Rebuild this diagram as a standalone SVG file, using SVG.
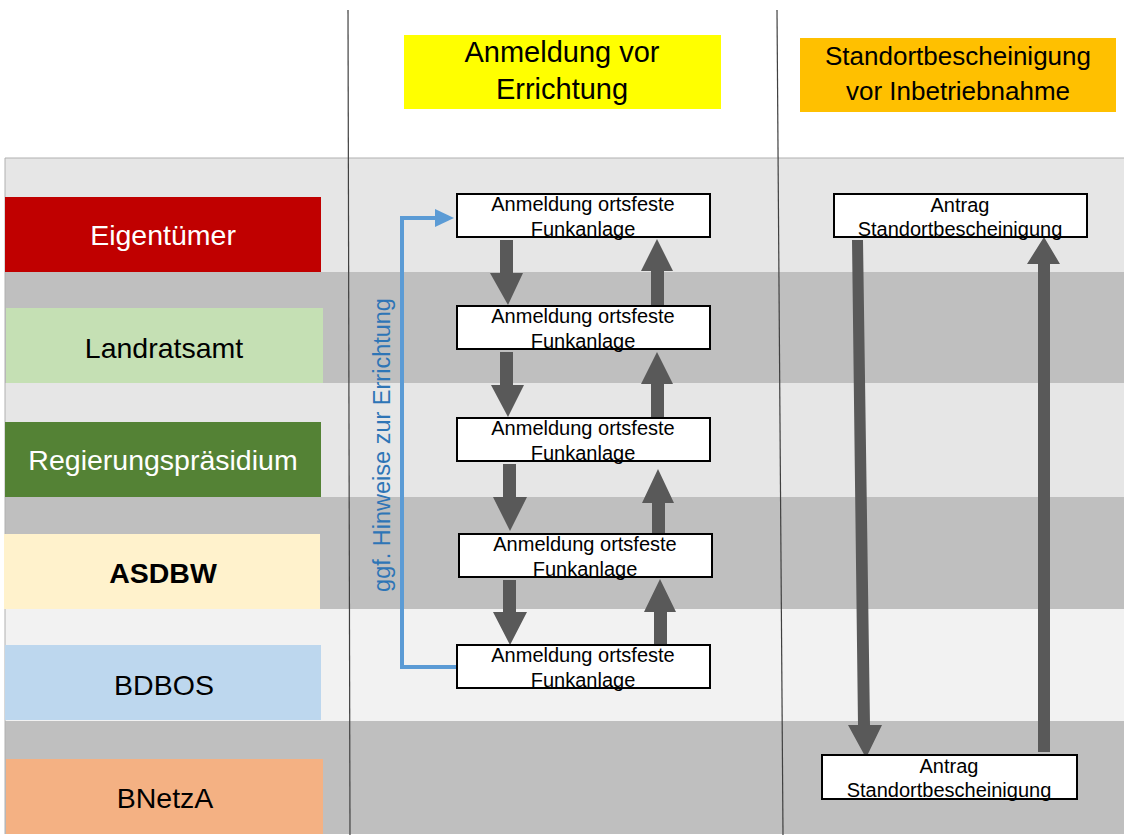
<svg xmlns="http://www.w3.org/2000/svg" width="1124" height="835" viewBox="0 0 1124 835">
<style>
text{font-family:"Liberation Sans",Arial,sans-serif}
.lane{font-size:28.5px;text-anchor:middle}
.hdr{text-anchor:middle;fill:#000}
.box{fill:#fff;stroke:#000;stroke-width:2}
.bt{font-size:20px;text-anchor:middle;fill:#000}
.arr{fill:#595959}
</style>
<rect x="0" y="0" width="1124" height="835" fill="#fff"/>
<g id="bands">
<rect x="5" y="158" width="1119" height="114" fill="#e6e6e6"/>
<rect x="5" y="272" width="1119" height="111" fill="#bfbfbf"/>
<rect x="5" y="383" width="1119" height="114" fill="#e6e6e6"/>
<rect x="5" y="497" width="1119" height="112" fill="#bfbfbf"/>
<rect x="5" y="609" width="1119" height="112" fill="#f2f2f2"/>
<rect x="5" y="721" width="1119" height="113" fill="#bfbfbf"/>
<path d="M5 834V158H1124" fill="none" stroke="#b0b0b0" stroke-width="1"/>
</g>
<g id="dividers" stroke="#404040" stroke-width="1.2">
<line x1="348" y1="10" x2="350" y2="835"/>
<line x1="777" y1="10" x2="783" y2="835"/>
</g>
<g id="header-anmeldung">
<rect x="404" y="35" width="317" height="74" fill="#ffff00"/>
<text class="hdr" x="562" y="62" font-size="29">Anmeldung vor</text>
<text class="hdr" x="562" y="99" font-size="29">Errichtung</text>
</g>
<g id="header-standort">
<rect x="800" y="38" width="316" height="74" fill="#ffc000"/>
<text class="hdr" x="958" y="65" font-size="26">Standortbescheinigung</text>
<text class="hdr" x="958" y="100" font-size="26">vor Inbetriebnahme</text>
</g>
<g id="lane-eigentuemer">
<rect x="5" y="197" width="316" height="75" fill="#c00000"/>
<text class="lane" x="163" y="245" fill="#fff">Eigentümer</text>
</g>
<g id="lane-landratsamt">
<rect x="6" y="308" width="317" height="75" fill="#c5e0b4"/>
<text class="lane" x="164" y="358" fill="#000">Landratsamt</text>
</g>
<g id="lane-rp">
<rect x="5" y="422" width="316" height="75" fill="#548235"/>
<text class="lane" x="163" y="470" fill="#fff">Regierungspräsidium</text>
</g>
<g id="lane-asdbw">
<rect x="4" y="534" width="316" height="75" fill="#fff2cc"/>
<text class="lane" x="163" y="583" fill="#000" font-weight="bold">ASDBW</text>
</g>
<g id="lane-bdbos">
<rect x="5" y="645" width="316" height="75" fill="#bdd7ee"/>
<text class="lane" x="164" y="695" fill="#000">BDBOS</text>
</g>
<g id="lane-bnetza">
<rect x="6" y="759" width="317" height="75" fill="#f4b183"/>
<text class="lane" x="165" y="808" fill="#000">BNetzA</text>
</g>
<g id="connectors">
<polygon class="arr" points="500,240 513,240 513,273 523,273 508,305 490,273 500,273"/>
<polygon class="arr" points="500,352 513,352 513,385 524,385 508,417 491,385 500,385"/>
<polygon class="arr" points="503,464 516,464 516,497 527,497 510,531 493,497 503,497"/>
<polygon class="arr" points="503,580 516,580 516,612 527,612 510,645 493,612 503,612"/>
<polygon class="arr" points="651,305 664,305 664,271 673,271 657,239 641,271 651,271"/>
<polygon class="arr" points="651,417 664,417 664,384 673,384 657,352 641,384 651,384"/>
<polygon class="arr" points="652,533 665,533 665,503 674,503 658,469 642,503 652,503"/>
<polygon class="arr" points="654,644 667,644 667,612 676,612 660,579 644,612 654,612"/>
<polygon class="arr" points="852,240 863,240 870,725 882,725 866,758 848,725 858,725"/>
<polygon class="arr" points="1038,752 1050,752 1050,264 1060,264 1044,237 1027,264 1038,264"/>
<polyline points="457,667 402,667 402,218 437,218" fill="none" stroke="#5b9bd5" stroke-width="4"/>
<polygon points="435,209 454,218 435,227" fill="#5b9bd5"/>
<text x="0" y="0" font-size="23.5" fill="#2e75b6" text-anchor="middle" transform="translate(390,445) rotate(-90)">ggf. Hinweise zur Errichtung</text>
</g>
<g id="node-a1">
<rect class="box" x="457" y="194" width="253" height="43"/>
<text class="bt" x="583" y="211">Anmeldung ortsfeste</text>
<text class="bt" x="583" y="236">Funkanlage</text>
</g>
<g id="node-a2">
<rect class="box" x="457" y="306" width="253" height="43"/>
<text class="bt" x="583" y="323">Anmeldung ortsfeste</text>
<text class="bt" x="583" y="348">Funkanlage</text>
</g>
<g id="node-a3">
<rect class="box" x="457" y="418" width="253" height="43"/>
<text class="bt" x="583" y="435">Anmeldung ortsfeste</text>
<text class="bt" x="583" y="460">Funkanlage</text>
</g>
<g id="node-a4">
<rect class="box" x="459" y="534" width="253" height="43"/>
<text class="bt" x="585" y="551">Anmeldung ortsfeste</text>
<text class="bt" x="585" y="576">Funkanlage</text>
</g>
<g id="node-a5">
<rect class="box" x="457" y="645" width="253" height="43"/>
<text class="bt" x="583" y="662">Anmeldung ortsfeste</text>
<text class="bt" x="583" y="687">Funkanlage</text>
</g>
<g id="node-s1">
<rect class="box" x="834" y="194" width="253" height="43"/>
<text class="bt" x="960" y="212">Antrag</text>
<text class="bt" x="960" y="236">Standortbescheinigung</text>
</g>
<g id="node-s2">
<rect class="box" x="822" y="755" width="255" height="44"/>
<text class="bt" x="949" y="773">Antrag</text>
<text class="bt" x="949" y="797">Standortbescheinigung</text>
</g>
</svg>
